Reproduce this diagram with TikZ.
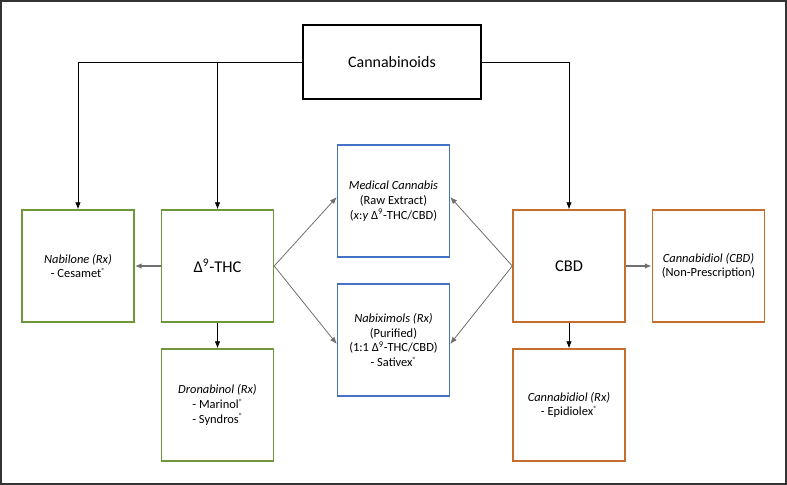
\documentclass[tikz,border=0pt]{standalone}
\usepackage{fontspec}
\setmainfont{Carlito}
\usetikzlibrary{arrows.meta}

\definecolor{thcgreen}{RGB}{112,150,60}
\definecolor{mixblue}{RGB}{68,114,196}
\definecolor{cbdorange}{RGB}{197,110,45}
\definecolor{linkgray}{RGB}{110,110,110}

\begin{document}
\begin{tikzpicture}[
                box/.style={
                    draw,
                    line width=1.4bp,
                    minimum width=112bp,
                    minimum height=112bp,
                    align=center,
                    inner sep=2pt,
                    font=\fontsize{12.5}{14.8}\selectfont
                },
                thcbox/.style={box, draw=thcgreen},
                mixbox/.style={box, draw=mixblue},
                cbdbox/.style={box, draw=cbdorange},
                big/.style={font=\fontsize{16.5}{18}\selectfont},
                link/.style={
                    -{Latex[length=7bp,width=5.5bp]},
                    line width=0.8bp
                },
                x=1bp,
                y=-1bp
            ]

        \newcommand{\reg}{\raisebox{0.75ex}{\fontsize{7.5}{7.5}\selectfont ®}}
        \newcommand{\thc}{Δ\textsuperscript{9}-THC}

        % frame
        \useasboundingbox (0,0) rectangle (787,485);
        \draw[line width=2bp, black!80] (1,1) rectangle (786,484);

        % top
        \node[draw, line width=2bp, minimum width=178bp, minimum height=74bp,
              font=\fontsize{16}{18}\selectfont] (cann) at (392,62) {Cannabinoids};

        % THC side
        \node[thcbox, big] (thc) at (217.5,266) {\thc};
        \node[thcbox] (nabil) at (78,266)
            {\textit{Nabilone (Rx)}\\- Cesamet\reg};
        \node[thcbox] (dronab) at (217.5,405)
            {\textit{Dronabinol (Rx)}\\- Marinol\reg\\- Syndros\reg};

        % mixed
        \node[mixbox] (medcan) at (393.5,201)
            {\textit{Medical Cannabis}\\(Raw Extract)\\(\textit{x}:\textit{y} \thc/CBD)};
        \node[mixbox] (nabix) at (393.5,340)
            {\textit{Nabiximols (Rx)}\\(Purified)\\(1:1 \thc/CBD)\\- Sativex\reg};

        % CBD side
        \node[cbdbox, big] (cbd) at (569,266) {CBD};
        \node[cbdbox] (cbdotc) at (708.5,266)
            {\textit{Cannabidiol (CBD)}\\(Non-Prescription)};
        \node[cbdbox] (epid) at (569,405)
            {\textit{Cannabidiol (Rx)}\\- Epidiolex\reg};

        % arrows
        \draw[link] (cann.west) -| (nabil.north);
        \draw[link] (cann.west -| thc.north) -- (thc.north);
        \draw[link] (cann.east) -| (cbd.north);
        \draw[link] (thc.south) -- (dronab.north);
        \draw[link] (cbd.south) -- (epid.north);
        \draw[link, linkgray, line width=1.4bp] (thc.west) -- (nabil.east);
        \draw[link, linkgray, line width=1.4bp] (cbd.east) -- (cbdotc.west);
        \draw[link, linkgray] (thc.east) -- ([yshift=4]medcan.west);
        \draw[link, linkgray] (thc.east) -- ([yshift=-4]nabix.west);
        \draw[link, linkgray] (cbd.west) -- ([yshift=4]medcan.east);
        \draw[link, linkgray] (cbd.west) -- ([yshift=-4]nabix.east);

            \end{tikzpicture}
\end{document}
